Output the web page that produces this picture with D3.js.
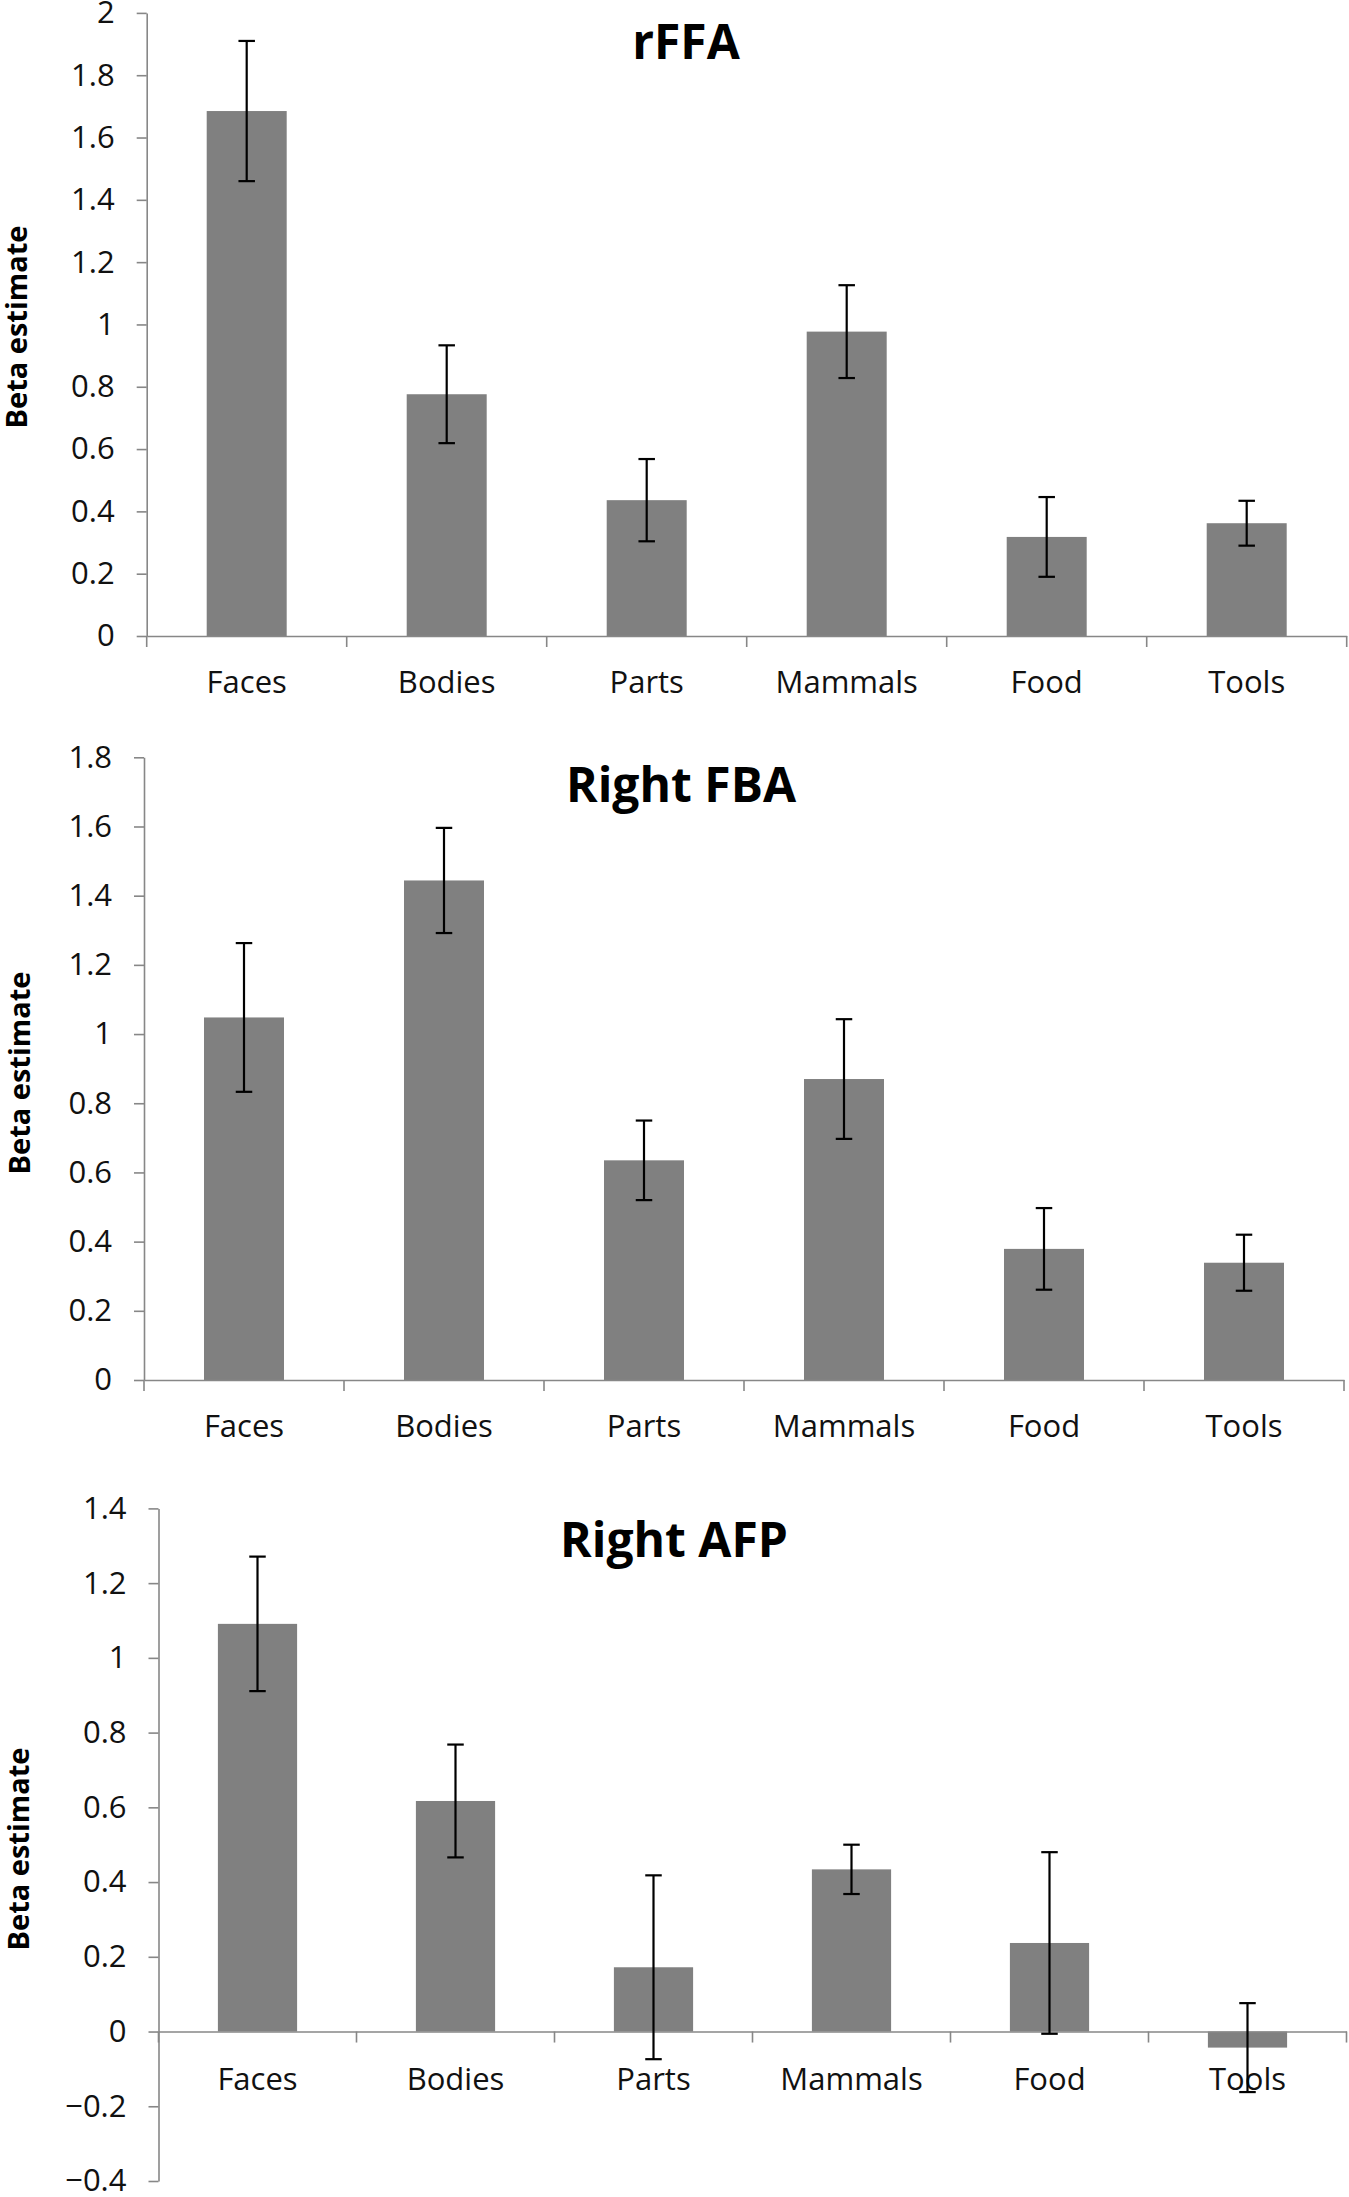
<!DOCTYPE html>
<html>
<head>
<meta charset="utf-8">
<script src="https://cdn.jsdelivr.net/npm/d3@7"></script>
<style>
  html, body { margin: 0; padding: 0; background: #ffffff; }
  svg { display: block; }
  text { font-family: "Open Sans", "Noto Sans", sans-serif; }
</style>
</head>
<body>
<svg id="chart" width="1349" height="2197"></svg>
<script>
// ---------------- data ----------------
const categories = ["Faces", "Bodies", "Parts", "Mammals", "Food", "Tools"];

const rffaTitle = "rFFA";
const rffaMeans = [1.685, 0.776, 0.436, 0.977, 0.318, 0.362];
const rffaErrors = [0.225, 0.157, 0.132, 0.149, 0.128, 0.072];
const rffaTicks = [0, 0.2, 0.4, 0.6, 0.8, 1, 1.2, 1.4, 1.6, 1.8, 2];

const fbaTitle = "Right FBA";
const fbaMeans = [1.048, 1.444, 0.635, 0.870, 0.379, 0.339];
const fbaErrors = [0.215, 0.152, 0.115, 0.173, 0.118, 0.081];
const fbaTicks = [0, 0.2, 0.4, 0.6, 0.8, 1, 1.2, 1.4, 1.6, 1.8];

const afpTitle = "Right AFP";
const afpMeans = [1.091, 0.617, 0.172, 0.434, 0.237, -0.043];
const afpErrors = [0.180, 0.151, 0.246, 0.066, 0.243, 0.119];
const afpTicks = [-0.4, -0.2, 0, 0.2, 0.4, 0.6, 0.8, 1, 1.2, 1.4];

const yLabel = "Beta estimate";

// ---------------- layout ----------------
const panels = [
  { title: rffaTitle, means: rffaMeans, errors: rffaErrors, ticks: rffaTicks,
    left: 146.7, right: 1346.7, yTop: 12.9, yBottom: 636, domain: [0, 2],
    titleX: 686, titleY: 59, labelX: 17, labelY: 327, xLabelPad: 35 },
  { title: fbaTitle, means: fbaMeans, errors: fbaErrors, ticks: fbaTicks,
    left: 144, right: 1344, yTop: 757.3, yBottom: 1380, domain: [0, 1.8],
    titleX: 681, titleY: 802, labelX: 20, labelY: 1073, xLabelPad: 35 },
  { title: afpTitle, means: afpMeans, errors: afpErrors, ticks: afpTicks,
    left: 158.5, right: 1346.5, yTop: 1508.4, yBottom: 2181, domain: [-0.4, 1.4],
    titleX: 674, titleY: 1557, labelX: 19, labelY: 1849, xLabelPad: 36 }
];

const axisColor = "#878787";
const barColor = "#808080";
const textColor = "#111111";
const tickFont = "31px";
const fmt = d => String(+d.toFixed(1)).replace("-", "\u2212");

const svg = d3.select("#chart");

panels.forEach(p => {
  const g = svg.append("g");
  const x = d3.scaleBand().domain(categories).range([p.left, p.right]).padding(0);
  const y = d3.scaleLinear().domain(p.domain).range([p.yBottom, p.yTop]);
  const y0 = y(0);
  const barW = x.bandwidth() * 0.4;

  // y axis
  const yAxis = g.append("g")
    .attr("transform", `translate(${p.left},0)`)
    .call(d3.axisLeft(y).tickValues(p.ticks).tickFormat(fmt)
      .tickSize(10).tickSizeOuter(0).tickPadding(22));
  yAxis.select(".domain").attr("stroke", axisColor).attr("stroke-width", 1.6);
  yAxis.selectAll(".tick line").attr("stroke", axisColor).attr("stroke-width", 1.6);
  yAxis.selectAll(".tick text").attr("fill", textColor)
    .style("font-size", tickFont).style("font-family", "'Open Sans', sans-serif");

  // bars
  g.selectAll("rect.bar").data(categories).enter().append("rect")
    .attr("class", "bar")
    .attr("x", c => x(c) + (x.bandwidth() - barW) / 2)
    .attr("width", barW)
    .attr("y", (c, i) => Math.min(y(p.means[i]), y0))
    .attr("height", (c, i) => Math.abs(y(p.means[i]) - y0))
    .attr("fill", barColor);

  // x axis line (at zero) with boundary ticks
  const xAxis = g.append("g")
    .attr("transform", `translate(0,${y0})`)
    .call(d3.axisBottom(x).tickSize(0).tickSizeOuter(0).tickPadding(p.xLabelPad));
  xAxis.select(".domain").attr("stroke", axisColor).attr("stroke-width", 1.6);
  xAxis.selectAll(".tick text").attr("fill", textColor)
    .style("font-size", tickFont).style("font-family", "'Open Sans', sans-serif");

  const bounds = categories.map(c => x(c)).concat([x(categories[categories.length - 1]) + x.bandwidth()]);
  g.selectAll("line.xtick").data(bounds).enter().append("line")
    .attr("class", "xtick")
    .attr("x1", d => d).attr("x2", d => d)
    .attr("y1", y0).attr("y2", y0 + 11)
    .attr("stroke", axisColor).attr("stroke-width", 1.6);

  // error bars
  const capW = 16.5;
  const eb = g.selectAll("g.err").data(categories).enter().append("g").attr("class", "err");
  eb.append("line")
    .attr("x1", c => x(c) + x.bandwidth() / 2).attr("x2", c => x(c) + x.bandwidth() / 2)
    .attr("y1", (c, i) => y(p.means[i] + p.errors[i]))
    .attr("y2", (c, i) => y(p.means[i] - p.errors[i]))
    .attr("stroke", "#000").attr("stroke-width", 2.2);
  [1, -1].forEach(s => {
    eb.append("line")
      .attr("x1", c => x(c) + x.bandwidth() / 2 - capW / 2)
      .attr("x2", c => x(c) + x.bandwidth() / 2 + capW / 2)
      .attr("y1", (c, i) => y(p.means[i] + s * p.errors[i]))
      .attr("y2", (c, i) => y(p.means[i] + s * p.errors[i]))
      .attr("stroke", "#000").attr("stroke-width", 2.2);
  });

  // title
  g.append("text")
    .attr("x", p.titleX).attr("y", p.titleY)
    .attr("text-anchor", "middle")
    .attr("fill", "#000")
    .style("font-size", "48px").style("font-weight", "700")
    .text(p.title);

  // y label
  g.append("text")
    .attr("transform", `translate(${p.labelX},${p.labelY}) rotate(-90)`)
    .attr("text-anchor", "middle")
    .attr("dy", "0.35em")
    .attr("fill", "#000")
    .style("font-size", "29px").style("font-weight", "700")
    .text(yLabel);
});
</script>
</body>
</html>
